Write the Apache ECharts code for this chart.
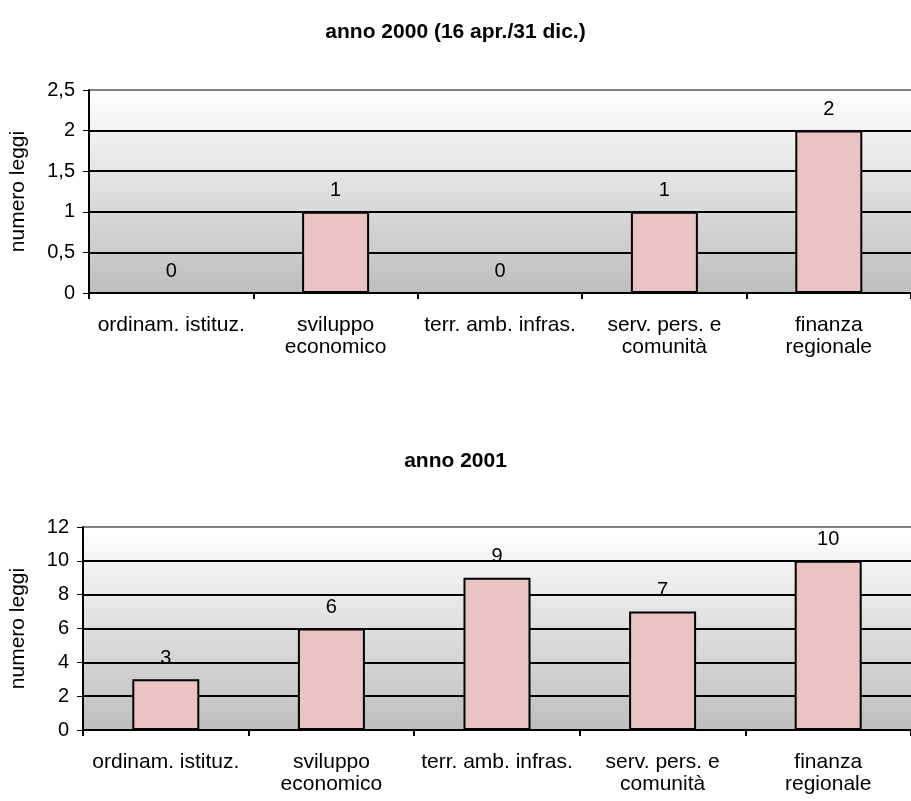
<!DOCTYPE html>
<html>
<head>
<meta charset="utf-8">
<script src="https://cdn.jsdelivr.net/npm/echarts@6/dist/echarts.min.js"></script>
<style>
html,body{margin:0;padding:0;background:#fff;}
#c{width:911px;height:801px;}
</style>
</head>
<body>
<div id="c"></div>
<script>
const categories = ['ordinam. istituz.', 'sviluppo\neconomico', 'terr. amb. infras.', 'serv. pers. e\ncomunità', 'finanza\nregionale'];
const values2000 = [0, 1, 0, 1, 2];
const values2001 = [3, 6, 9, 7, 10];
const title2000 = 'anno 2000 (16 apr./31 dic.)';
const title2001 = 'anno 2001';
const yName = 'numero leggi';

const FONT = '"Liberation Sans", Arial, sans-serif';
const bgGrad = {type:'linear', x:0, y:0, x2:0, y2:1, colorStops:[{offset:0, color:'#ffffff'},{offset:1, color:'#bebebe'}]};
const fmt = v => String(v).replace('.', ',');

function xAxis(gi){
  return {
    type:'category', gridIndex:gi, data:categories,
    axisLine:{show:true, lineStyle:{color:'#000', width:2}},
    axisTick:{show:true, length:6, inside:false, lineStyle:{color:'#000', width:2}},
    axisLabel:{interval:0, margin:21, color:'#000', fontFamily:FONT, fontSize:21, lineHeight:22}
  };
}
function yAxis(gi, max, interval, gap, nLines){
  const cols = [];
  for (let i=0;i<nLines;i++) cols.push(i===nLines-1 ? '#808080' : '#000');
  return {
    type:'value', gridIndex:gi, min:0, max:max, interval:interval,
    name:yName, nameLocation:'middle', nameGap:gap, nameRotate:90,
    nameTextStyle:{color:'#000', fontFamily:FONT, fontSize:21},
    axisLine:{show:true, lineStyle:{color:'#000', width:2}},
    axisTick:{show:true, length:6, lineStyle:{color:'#000', width:1}},
    axisLabel:{color:'#000', fontFamily:FONT, fontSize:20, margin:14, formatter:fmt},
    splitLine:{show:true, lineStyle:{color:cols, width:2}}
  };
}
function series(gi, data){
  return {
    type:'bar', xAxisIndex:gi, yAxisIndex:gi, data:data, barWidth:67,
    itemStyle:{color:'#eac3c3', borderColor:'#000', borderWidth:2},
    label:{show:true, position:'top', distance:11, color:'#000', fontFamily:FONT, fontSize:20},
    animation:false
  };
}

const chart = echarts.init(document.getElementById('c'), null, {renderer:'canvas'});
chart.setOption({
  animation:false,
  backgroundColor:'#fff',
  title:[
    {text:title2000, left:'center', top:17, textStyle:{fontFamily:FONT, fontSize:21, fontWeight:'bold', color:'#000'}},
    {text:title2001, left:'center', top:446, textStyle:{fontFamily:FONT, fontSize:21, fontWeight:'bold', color:'#000'}}
  ],
  grid:[
    {left:87, top:90, width:833, height:203, show:true, backgroundColor:bgGrad, borderWidth:0, containLabel:false},
    {left:81, top:527, width:838, height:203, show:true, backgroundColor:bgGrad, borderWidth:0, containLabel:false}
  ],
  xAxis:[xAxis(0), xAxis(1)],
  yAxis:[yAxis(0, 2.5, 0.5, 60, 6), yAxis(1, 12, 2, 54, 7)],
  series:[series(0, values2000), series(1, values2001)]
});
</script>
</body>
</html>
